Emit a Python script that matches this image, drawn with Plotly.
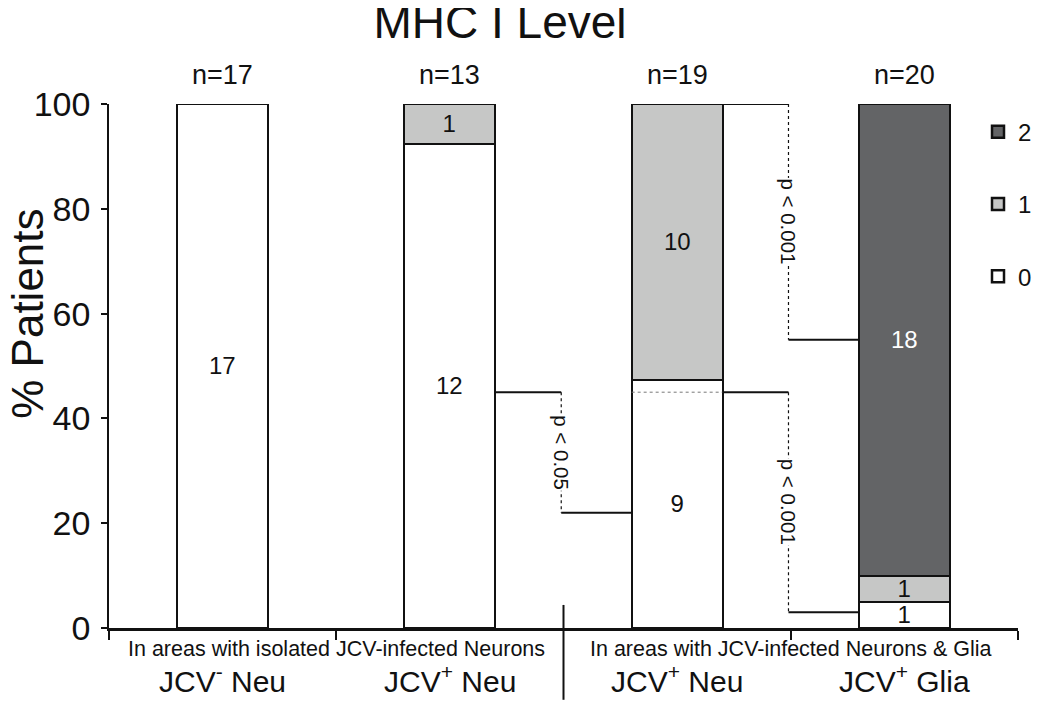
import plotly.graph_objects as go

# ---- data ----
categories = [0, 1, 2, 3]
cat_labels = ["JCV<sup>-</sup> Neu", "JCV<sup>+</sup> Neu", "JCV<sup>+</sup> Neu", "JCV<sup>+</sup> Glia"]
n_patients = [17, 13, 19, 20]
level_names = ["0", "1", "2"]
level0_counts = [17, 12, 9, 1]
level1_counts = [0, 1, 10, 1]
level2_counts = [0, 0, 0, 18]
level_colors = ["#ffffff", "#c6c7c6", "#636466"]
text_colors = ["#111111", "#111111", "#ffffff"]
legend_ranks = [3, 2, 1]

group_labels = ["In areas with isolated JCV-infected Neurons", "In areas with JCV-infected Neurons & Glia"]
group_centers = [0.5, 2.5]

# significance brackets: left bar idx, right bar idx, vertical x, y at left, y at right, label
p_labels = ["p < 0.05", "p < 0.001", "p < 0.001"]
p_left_bar = [1, 2, 2]
p_right_bar = [2, 3, 3]
p_x = [1.49, 2.49, 2.49]
p_y_left = [45, 45, 100]
p_y_right = [22, 3, 55]
ref_line_y = 45

title = "MHC I Level"
y_title = "% Patients"
y_ticks = [0, 20, 40, 60, 80, 100]

FONT = "Liberation Sans, Arial, sans-serif"
BAR_W = 0.4

fig = go.Figure()
all_counts = [level0_counts, level1_counts, level2_counts]
for li, counts in enumerate(all_counts):
    yvals = [c / n * 100 if c > 0 else None for c, n in zip(counts, n_patients)]
    txt = [str(c) if c > 0 else "" for c in counts]
    fig.add_trace(go.Bar(
        x=categories, y=yvals, name=level_names[li], width=BAR_W,
        marker=dict(color=level_colors[li], line=dict(color="#111111", width=2.5)),
        text=txt, textposition="inside", insidetextanchor="middle", textangle=0,
        textfont=dict(size=24, color=text_colors[li], family=FONT),
        cliponaxis=False, legendgroup=level_names[li], legendrank=legend_ranks[li],
        hoverinfo="skip",
    ))

shapes = []
# dashed reference line through bar 3
shapes.append(dict(type="line", xref="x", yref="y", x0=2 - BAR_W / 2, x1=2 + BAR_W / 2,
                   y0=ref_line_y, y1=ref_line_y, line=dict(color="#777777", width=1, dash="dot")))
annotations = []
for i in range(len(p_labels)):
    xl = p_left_bar[i] + BAR_W / 2
    xr = p_right_bar[i] - BAR_W / 2
    shapes.append(dict(type="line", xref="x", yref="y", x0=xl, x1=p_x[i], y0=p_y_left[i], y1=p_y_left[i],
                       line=dict(color="#111111", width=2)))
    shapes.append(dict(type="line", xref="x", yref="y", x0=p_x[i], x1=xr, y0=p_y_right[i], y1=p_y_right[i],
                       line=dict(color="#111111", width=2)))
    shapes.append(dict(type="line", xref="x", yref="y", x0=p_x[i], x1=p_x[i], y0=p_y_left[i], y1=p_y_right[i],
                       line=dict(color="#111111", width=1.2, dash="dot")))
    annotations.append(dict(x=p_x[i], y=(p_y_left[i] + p_y_right[i]) / 2, xref="x", yref="y",
                            text=p_labels[i], textangle=90, showarrow=False, bgcolor="white",
                            font=dict(size=20.5, family=FONT, color="#111111"), borderpad=0))

# separator between groups
shapes.append(dict(type="line", xref="x", yref="paper", x0=1.5, x1=1.5, y0=0.044, y1=-0.137,
                   line=dict(color="#111111", width=2)))

for c, n in zip(categories, n_patients):
    annotations.append(dict(x=c, y=1.055, xref="x", yref="paper", text=f"n={n}", showarrow=False,
                            yanchor="middle", font=dict(size=27, family=FONT, color="#111111")))
for c, lab in zip(categories, cat_labels):
    annotations.append(dict(x=c, y=-0.097, xref="x", yref="paper", text=lab, showarrow=False,
                            yanchor="middle", font=dict(size=30, family=FONT, color="#111111")))
for gc, gl in zip(group_centers, group_labels):
    annotations.append(dict(x=gc, y=-0.04, xref="x", yref="paper", text=gl, showarrow=False,
                            yanchor="middle", font=dict(size=21.5, family=FONT, color="#111111")))
annotations.append(dict(x=-0.09, y=0.60, xref="paper", yref="paper", text=y_title, textangle=-90,
                        showarrow=False, xanchor="center", yanchor="middle",
                        font=dict(size=44, family=FONT, color="#111111")))

fig.update_layout(
    width=1050, height=703,
    margin=dict(l=101, r=40, t=96, b=83),
    paper_bgcolor="white", plot_bgcolor="white",
    barmode="stack", bargap=0,
    title=dict(text=title, x=0.4686, xref="container", y=1 - 14 / 703, yref="container",
               xanchor="center", yanchor="middle", font=dict(size=46, family=FONT, color="#111111")),
    xaxis=dict(range=[-0.5, 3.5], tickvals=[-0.5, 0.5, 2.5, 3.5], ticktext=["", "", "", ""],
               ticks="outside", ticklen=9, tickwidth=2, tickcolor="#111111",
               showline=True, linecolor="#111111", linewidth=2.5, showgrid=False, zeroline=False,
               fixedrange=True),
    yaxis=dict(range=[0, 100], tickvals=y_ticks, ticks="outside", ticklen=6, tickwidth=1.5,
               tickcolor="#111111", showline=True, linecolor="#111111", linewidth=1.5,
               ticklabelstandoff=4,
               showgrid=False, zeroline=False, tickfont=dict(size=34, family=FONT, color="#111111")),
    uniformtext=dict(minsize=24, mode="show"),
    legend=dict(x=0.956, y=0.989, xanchor="left", yanchor="top", traceorder="grouped",
                tracegroupgap=38, font=dict(size=24, family=FONT, color="#111111"),
                bgcolor="rgba(0,0,0,0)"),
    shapes=shapes, annotations=annotations,
)

fig.write_html("out.html")
